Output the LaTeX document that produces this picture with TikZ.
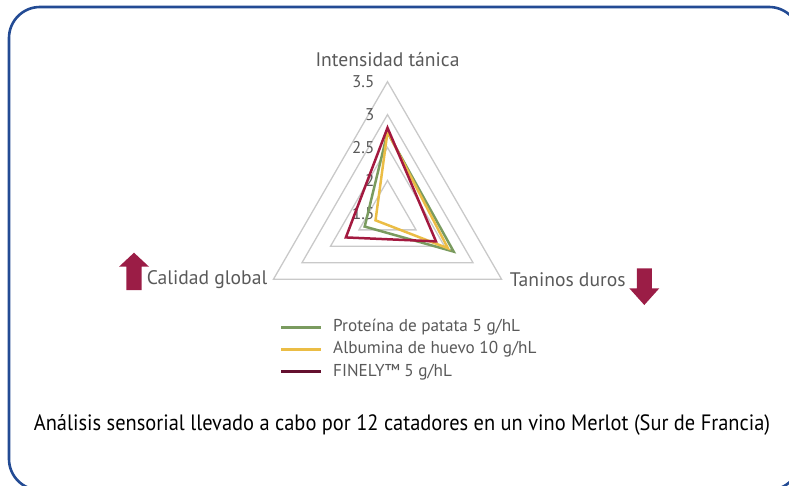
\documentclass[tikz,border=0pt]{standalone}
\usepackage{fontspec}
\setmainfont{PT Sans}
\newfontfamily\notefont[FakeStretch=0.92]{PT Sans}
\usetikzlibrary{positioning}
\definecolor{frameblue}{HTML}{234B94}
\definecolor{gridgrey}{HTML}{C9C9C9}
\definecolor{labelgrey}{HTML}{595959}
\definecolor{potatogreen}{HTML}{7A9B5F}
\definecolor{eggyellow}{HTML}{EBBD45}
\definecolor{finelyred}{HTML}{A3193F}
\definecolor{finelydark}{HTML}{64102F}
\definecolor{arrowred}{HTML}{9B1D46}
\tikzstyle{frame}=[draw=frameblue, line width=2.6pt, rounded corners=31pt]
\tikzstyle{ring}=[draw=gridgrey, line width=1.3pt]
\tikzstyle{series}=[line width=2.5pt, line join=miter]
\tikzstyle{axis label}=[text=labelgrey, inner sep=0pt, font=\fontsize{19.6}{22}\selectfont]
\tikzstyle{tick label}=[text=labelgrey, inner sep=0pt, anchor=east, font=\fontsize{17}{19}\selectfont]
\tikzstyle{legend text}=[text=labelgrey, inner sep=0pt, anchor=west, font=\fontsize{17.2}{19}\selectfont]
\tikzstyle{legend line}=[line width=3pt]
\tikzstyle{trend}=[fill=arrowred]
\def\unit{65.85}

\begin{document}
\begin{tikzpicture}[x=1pt, y=-1pt]
    \useasboundingbox (0,0) rectangle (789,486);
    % outer frame
    \draw[frame] (9,7) rectangle (800,490);

    % radar chart, centre of the triangles
    \begin{scope}[shift={(387.5,213.4)}]
        \foreach \v in {2,2.5,3,3.5}
            \draw[ring] (270:{(\v-1.5)*\unit}) -- (30:{(\v-1.5)*\unit}) -- (150:{(\v-1.5)*\unit}) -- cycle;
        \foreach \v/\name in {1.5/t1, 2/t2, 2.5/t3, 3/t4, 3.5/t5}
            \node[tick label] (\name) at (-13,{-(\v-1.5)*\unit}) {\v};
        % series: top / right / left
        \foreach \col/\a/\b/\c in {potatogreen/2.73/2.66/1.90, eggyellow/2.74/2.56/1.71, finelyred/2.80/2.35/2.23}
            \draw[series, \col] (270:{(\a-1.5)*\unit}) -- (30:{(\b-1.5)*\unit}) -- (150:{(\c-1.5)*\unit}) -- cycle;
        \coordinate (top) at (270:{2*\unit});
        \coordinate (right) at (30:{2*\unit});
        \coordinate (left) at (150:{2*\unit});
    \end{scope}

    % axis names
    \node[axis label, above=15pt of top] (tannic) {Intensidad tánica};
    \node[axis label, left=6pt of left] (quality) {Calidad global};
    \node[axis label, right=8pt of right] (hard) {Taninos duros};

    % trend arrows
    \fill[trend] (126.4,290) -- (126.4,266.7) -- (119,266.7) -- (134,252.7) -- (149,266.7) -- (141.6,266.7) -- (141.6,290) -- cycle;
    \fill[trend] (636.8,268.3) -- (636.8,288.3) -- (629.3,288.3) -- (644.3,305) -- (659.3,288.3) -- (651.8,288.3) -- (651.8,268.3) -- cycle;

    % legend
    \foreach \y/\col/\name/\txt in {327.3/potatogreen/potato/{Proteína de patata 5 g/hL}, 349.5/eggyellow/egg/{Albumina de huevo 10 g/hL}, 371.7/finelydark/finely/{FINELY™ 5 g/hL}}
    {
        \node[legend text] (\name) at (333,\y) {\txt};
        \draw[legend line, \col] (281,\y) -- (321,\y);
    }

    % caption
    \node[inner sep=0pt] (note) at (402,425) {\notefont\fontsize{22.2}{24}\selectfont Análisis sensorial llevado a cabo por 12 catadores en un vino Merlot (Sur de Francia)};
\end{tikzpicture}
\end{document}
